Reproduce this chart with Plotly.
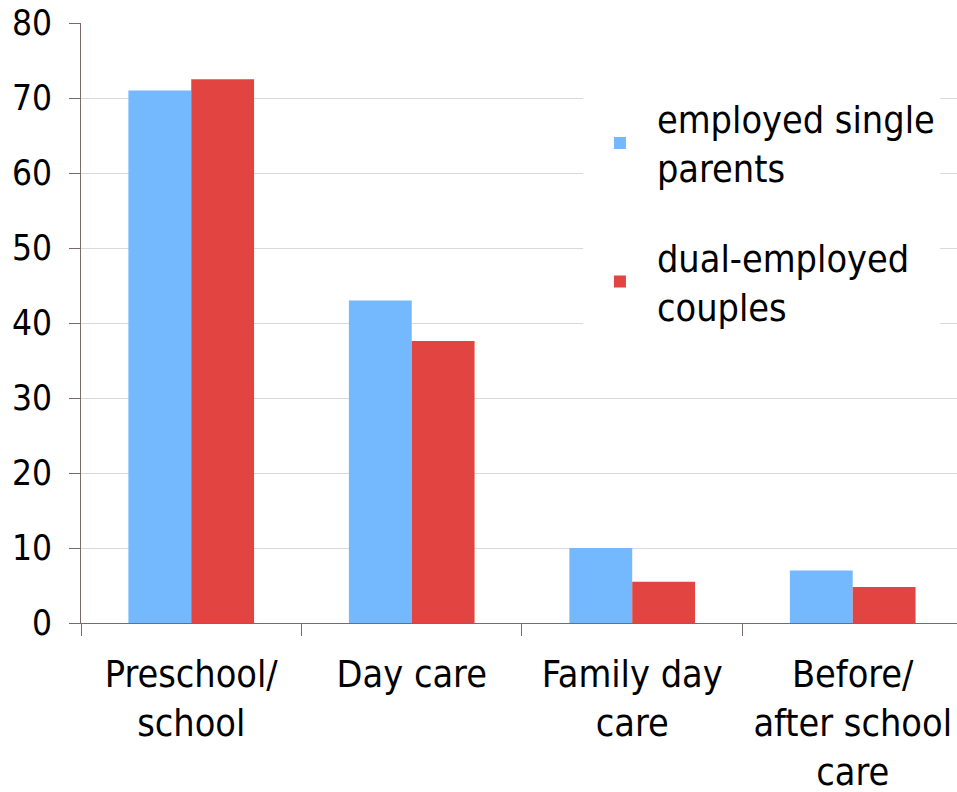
import plotly.graph_objects as go

categories = ["Preschool/<br>school", "Day care", "Family day<br>care", "Before/<br>after school<br>care"]
single_parents = [71, 43, 10, 7]
dual_couples = [72.5, 37.6, 5.5, 4.8]
series_names = ["employed single<br>parents", "dual-employed<br>couples"]
y_ticks = [0, 10, 20, 30, 40, 50, 60, 70, 80]

FONT = "DejaVu Sans Condensed, DejaVu Sans"
AXIS = "#7a6a6a"
FS = 37.5

fig = go.Figure()
fig.add_trace(go.Bar(x=categories, y=single_parents, name=series_names[0],
                     marker=dict(color="#74b8fd", line=dict(width=0)), legendgroup="a"))
fig.add_trace(go.Bar(x=categories, y=dual_couples, name=series_names[1],
                     marker=dict(color="#e24541", line=dict(width=0)), legendgroup="b"))

fig.update_layout(
    width=957, height=792,
    margin=dict(l=81, r=0, t=23, b=169, pad=0, autoexpand=False),
    paper_bgcolor="white", plot_bgcolor="white",
    font=dict(family=FONT, size=FS, color="black"),
    barmode="group", bargap=0.43, bargroupgap=0,
    showlegend=True,
    legend=dict(x=0.573, xanchor="left", y=0.892, yanchor="top",
                bgcolor="white", borderwidth=0, itemwidth=64,
                tracegroupgap=38, traceorder="grouped",
                font=dict(family=FONT, size=FS, color="black")),
)
fig.update_xaxes(
    type="category", range=[-0.5, 3.473], automargin=False,
    showline=True, linecolor=AXIS, linewidth=1,
    ticks="outside", tickson="boundaries", ticklen=12, tickcolor=AXIS,
    ticklabelstandoff=18, ticklabeloverflow="allow",
    showgrid=False, zeroline=False,
    tickfont=dict(family=FONT, size=FS, color="black"),
)
fig.update_yaxes(
    range=[0, 80.0001], tickvals=y_ticks, automargin=False,
    showline=True, linecolor=AXIS, linewidth=1,
    ticks="outside", ticklen=11, tickcolor=AXIS,
    ticklabelstandoff=10, ticklabeloverflow="allow",
    showgrid=True, gridcolor="#d9d9d9", gridwidth=1,
    zeroline=False,
    tickfont=dict(family=FONT, size=35, color="black"),
)

fig.write_html("out.html", config={"displayModeBar": False},
               post_script="document.body.style.margin='0px';")
